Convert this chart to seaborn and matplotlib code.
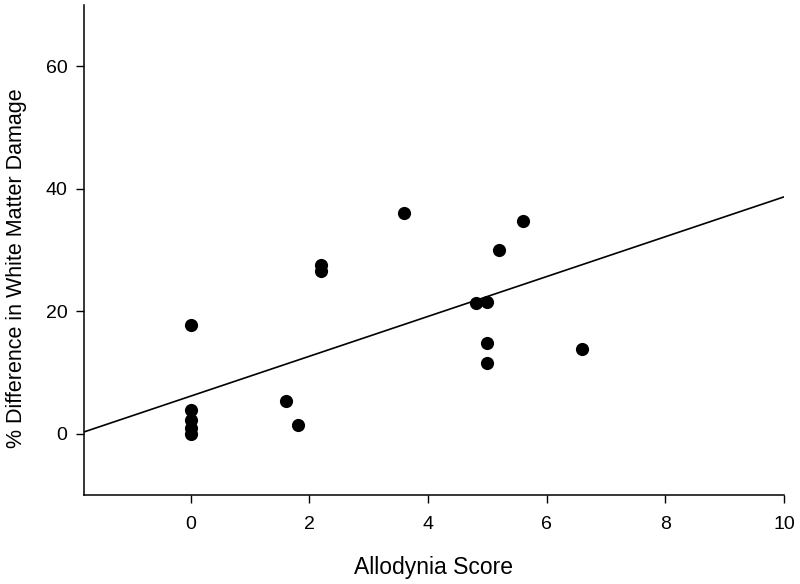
import matplotlib
matplotlib.use("Agg")
import matplotlib.pyplot as plt
import seaborn as sns
import pandas as pd

# Data
allodynia_score = [0, 0, 0, 0, 0, 1.6, 1.8, 2.2, 2.2, 3.6, 4.8, 5.0, 5.0, 5.0, 5.2, 5.6, 6.6]
white_matter_diff = [17.8, 3.9, 2.3, 1.0, 0.0, 5.3, 1.5, 27.5, 26.6, 36.0, 21.3, 21.6, 14.8, 11.6, 30.0, 34.7, 13.9]
fit_x = [-1.8, 10.0]
fit_y = [0.3, 38.7]
x_ticks = [0, 2, 4, 6, 8, 10]
y_ticks = [0, 20, 40, 60]

df = pd.DataFrame({"x": allodynia_score, "y": white_matter_diff})
fit = pd.DataFrame({"x": fit_x, "y": fit_y})

sns.set_style("ticks")
plt.rcParams["font.family"] = ["Liberation Sans", "DejaVu Sans"]

fig = plt.figure(figsize=(8, 5.84), dpi=100)
ax = fig.add_axes([0.105, 0.1524, 0.875, 0.8386])

sns.lineplot(data=fit, x="x", y="y", ax=ax, color="black", linewidth=1.2)
sns.scatterplot(data=df, x="x", y="y", ax=ax, color="black", s=90, edgecolor="black", linewidth=0, zorder=3)

ax.set_xlim(-1.8, 10)
ax.set_ylim(-10, 70)
ax.set_xticks(x_ticks)
ax.set_yticks(y_ticks)
ax.tick_params(axis="both", labelsize=14, length=6, width=1, color="black", direction="out")
for lab in ax.get_xticklabels() + ax.get_yticklabels():
    lab.set_color("black")
ax.xaxis.set_tick_params(pad=9)
ax.yaxis.set_tick_params(pad=6)
for s in ["left", "bottom"]:
    ax.spines[s].set_linewidth(1.1)
    ax.spines[s].set_color("black")
sns.despine(ax=ax)

ax.set_xlabel("Allodynia Score", fontsize=16.5, labelpad=17, color="black")
ax.set_ylabel("% Difference in White Matter Damage", fontsize=15.5, color="black")
ax.yaxis.set_label_coords(-0.0815, 0.464)

fig.savefig("out.png", dpi=100)
